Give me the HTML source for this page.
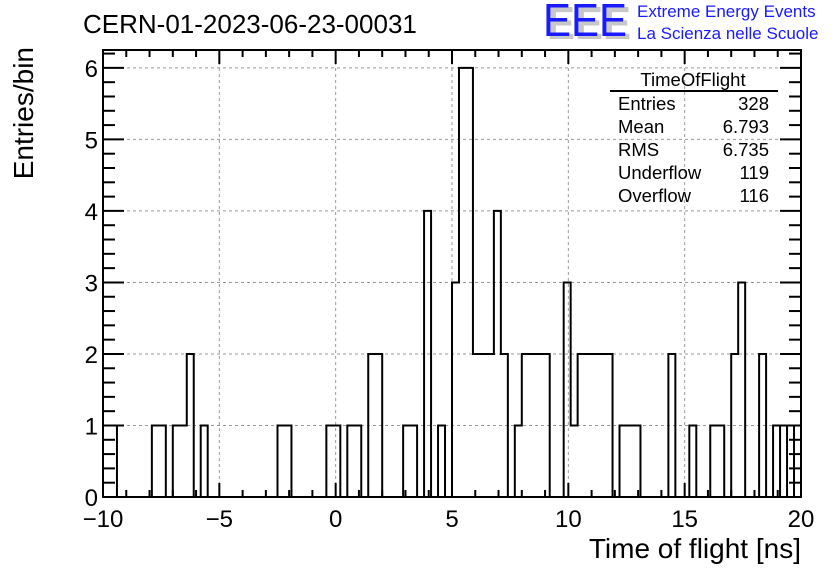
<!DOCTYPE html>
<html><head><meta charset="utf-8"><style>
body{margin:0;background:#fff;}
svg{display:block;font-family:"Liberation Sans",sans-serif;}
</style></head><body>
<svg id="c" width="836" height="572" viewBox="0 0 836 572">
<rect width="836" height="572" fill="#fff"/>
<g id="grid"></g>
<g id="hist"></g>
<g id="axes"></g>
<text x="83" y="33" font-size="26">CERN-01-2023-06-23-00031</text>
<g>
<text x="547" y="39" font-size="46" fill="#c8c8c8" font-weight="bold" textLength="84" lengthAdjust="spacingAndGlyphs">EEE</text>
<text x="543" y="36" font-size="46" fill="#1a1aff" textLength="84" lengthAdjust="spacingAndGlyphs">EEE</text>
<text x="637" y="17" font-size="17" fill="#1a1aff">Extreme Energy Events</text>
<text x="637" y="39" font-size="17" fill="#1a1aff">La Scienza nelle Scuole</text>
</g>
<g font-size="18.5">
<text x="693" y="86" text-anchor="middle">TimeOfFlight</text>
<line x1="610" y1="91" x2="778" y2="91" stroke="#000" stroke-width="2"/>
<text x="618" y="110">Entries</text><text x="769" y="110" text-anchor="end">328</text>
<text x="618" y="133">Mean</text><text x="769" y="133" text-anchor="end">6.793</text>
<text x="618" y="156">RMS</text><text x="769" y="156" text-anchor="end">6.735</text>
<text x="618" y="179">Underflow</text><text x="769" y="179" text-anchor="end">119</text>
<text x="618" y="202">Overflow</text><text x="769" y="202" text-anchor="end">116</text>
</g>
<text x="801" y="558" font-size="28" text-anchor="end">Time of flight [ns]</text>
<text transform="translate(33,47) rotate(-90)" font-size="28" text-anchor="end">Entries/bin</text>
</svg>
<script>
const xMin=-10, xMax=20, nBins=100;
const binCounts=[1,1,0,0,0,0,0,1,1,0, 1,1,2,0,1,0,0,0,0,0, 0,0,0,0,0,1,1,0,0,0, 0,0,1,1,0,1,1,0,2,2, 0,0,0,1,1,0,4,0,1,0, 3,6,6,2,2,2,4,2,0,1, 2,2,2,2,0,0,3,1,2,2, 2,2,2,0,1,1,1,0,0,0, 0,2,0,0,1,0,0,1,1,0, 2,3,0,0,2,0,1,1,1,1];
const xTicks=[-10,-5,0,5,10,15,20];
const yTicks=[0,1,2,3,4,5,6];
const L=103,R=801,T=50,B=497,yMax=6.25;
const sx=v=>L+(v-xMin)/(xMax-xMin)*(R-L);
const sy=v=>B-v/yMax*(B-T);
const NS="http://www.w3.org/2000/svg";
function mk(p,tag,a){const e=document.createElementNS(NS,tag);for(const k in a)e.setAttribute(k,a[k]);p.appendChild(e);return e;}
const grid=document.getElementById('grid'),hist=document.getElementById('hist'),axes=document.getElementById('axes');
xTicks.forEach(t=>{if(t>xMin&&t<xMax){const g=mk(grid,'line',{x1:sx(t),x2:sx(t),y1:T,y2:B,stroke:'#999','stroke-dasharray':'3,3','stroke-width':1});

}});
yTicks.forEach(t=>{if(t>0){const g=mk(grid,'line',{x1:L,x2:R,y1:sy(t),y2:sy(t),stroke:'#999','stroke-dasharray':'3,3','stroke-width':1});

}});
const w=(xMax-xMin)/nBins;
let d='M'+sx(xMin)+','+sy(0);
binCounts.forEach((c,i)=>{const x0=sx(xMin+i*w),x1=sx(xMin+(i+1)*w);d+=' L'+x0+','+sy(c)+' L'+x1+','+sy(c);});
d+=' L'+sx(xMax)+','+sy(0);
const p=mk(hist,'path',{d:d,fill:'none',stroke:'#000','stroke-width':2});


for(let i=nBins-1;i>0&&binCounts[i]>0&&binCounts[i-1]>0;i--){
const s=mk(hist,'line',{x1:sx(xMin+i*w),x2:sx(xMin+i*w),y1:sy(0),y2:sy(Math.min(binCounts[i],binCounts[i-1])),stroke:'#000','stroke-width':2});

}
mk(axes,'rect',{x:L,y:T,width:R-L,height:B-T,fill:'none',stroke:'#000','stroke-width':2});
for(let v=xMin;v<=xMax;v+=1){const maj=v%5===0,len=maj?14:7;
mk(axes,'line',{x1:sx(v),x2:sx(v),y1:B,y2:B-len,stroke:'#000','stroke-width':2});
mk(axes,'line',{x1:sx(v),x2:sx(v),y1:T,y2:T+len,stroke:'#000','stroke-width':2});}
for(let k=0;k<=31;k++){const v=k*0.2,maj=k%5===0,len=maj?21:12;if(v>yMax)break;
mk(axes,'line',{x1:L,x2:L+len,y1:sy(v),y2:sy(v),stroke:'#000','stroke-width':2});
mk(axes,'line',{x1:R,x2:R-len,y1:sy(v),y2:sy(v),stroke:'#000','stroke-width':2});}
xTicks.forEach(t=>{const e=mk(axes,'text',{x:sx(t),y:B+30,'font-size':24,'text-anchor':'middle'});e.textContent=(t<0?'\u2212'+(-t):t);

});
yTicks.forEach(t=>{const e=mk(axes,'text',{x:L-5,y:sy(t)+9,'font-size':24,'text-anchor':'end'});e.textContent=t;

});
</script>
</body></html>
